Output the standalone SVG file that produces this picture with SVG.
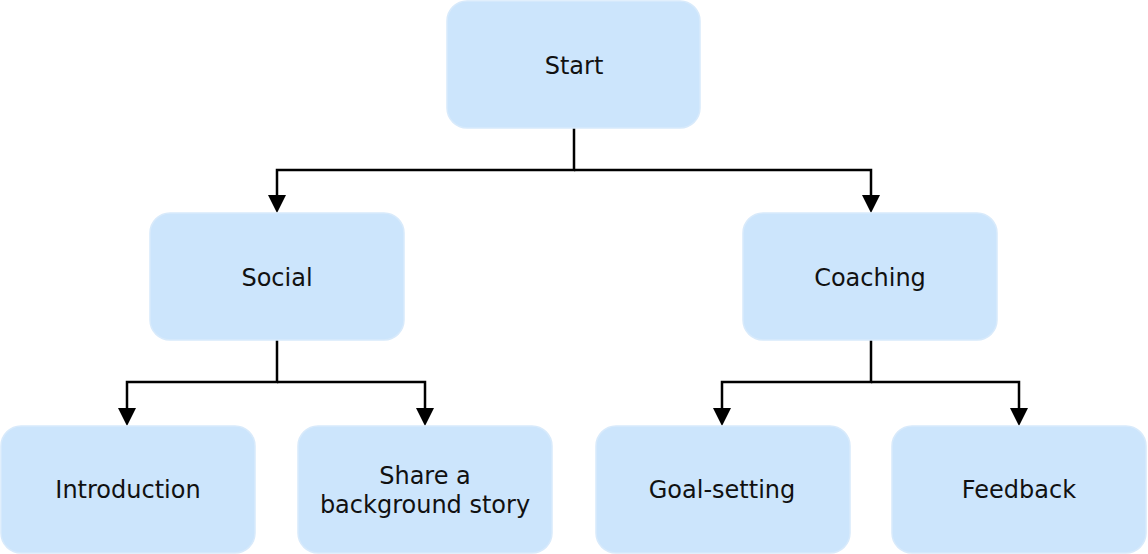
<svg xmlns="http://www.w3.org/2000/svg" width="1148" height="554" viewBox="0 0 1148 554">
<defs>
<style>
.box{fill:#cce5fc;stroke:#d8eafb;stroke-width:1.5}
.lbl{font-family:"DejaVu Sans",Verdana,sans-serif;font-size:24px;fill:#111;text-anchor:middle;dominant-baseline:central}
.con{fill:none;stroke:#000;stroke-width:2.5}
</style>
</defs>
<rect width="1148" height="554" fill="#fff"/>
<g id="connectors">
<path class="con" d="M574,128 V170 H277 V197"/>
<path class="con" d="M574,170 H871 V197"/>
<path class="con" d="M277,340 V382 H127 V410"/>
<path class="con" d="M277,382 H425 V410"/>
<path class="con" d="M871,340 V382 H722 V410"/>
<path class="con" d="M871,382 H1019 V410"/>
<g fill="#000">
<path d="M268,195 L286,195 L277,213 Z"/>
<path d="M862,195 L880,195 L871,213 Z"/>
<path d="M118,408 L136,408 L127,426 Z"/>
<path d="M416,408 L434,408 L425,426 Z"/>
<path d="M713,408 L731,408 L722,426 Z"/>
<path d="M1010,408 L1028,408 L1019,426 Z"/>
</g>
</g>
<g id="start"><rect class="box" x="447" y="1" width="253" height="127" rx="20"/><text class="lbl" x="574" y="66">Start</text></g>
<g id="social"><rect class="box" x="150" y="213" width="254" height="127" rx="20"/><text class="lbl" x="277" y="278">Social</text></g>
<g id="coaching"><rect class="box" x="743" y="213" width="254" height="127" rx="20"/><text class="lbl" x="870" y="278">Coaching</text></g>
<g id="introduction"><rect class="box" x="1" y="426" width="254" height="127" rx="20"/><text class="lbl" x="128" y="490">Introduction</text></g>
<g id="share"><rect class="box" x="298" y="426" width="254" height="127" rx="20"/><text class="lbl" x="425" y="476">Share a</text><text class="lbl" x="425" y="505">background story</text></g>
<g id="goal"><rect class="box" x="596" y="426" width="254" height="127" rx="20"/><text class="lbl" x="722" y="490">Goal-setting</text></g>
<g id="feedback"><rect class="box" x="892" y="426" width="254" height="127" rx="20"/><text class="lbl" x="1019" y="490">Feedback</text></g>
</svg>
